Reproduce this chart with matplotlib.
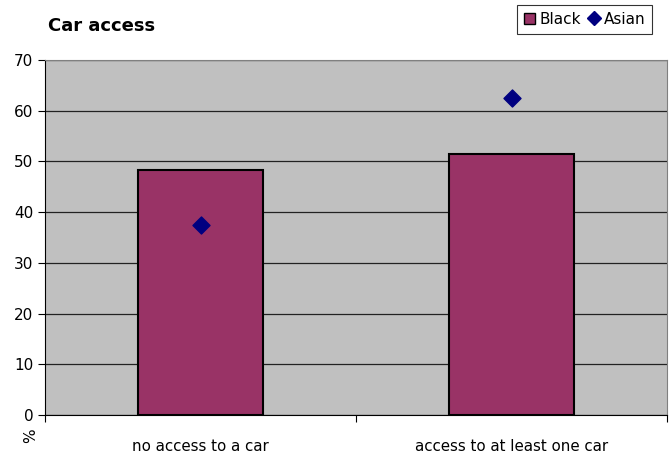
import matplotlib.pyplot as plt
import numpy as np
from matplotlib.lines import Line2D
from matplotlib.patches import Patch

categories = ['no access to a car', 'access to at least one car']
black = [48.3, 51.5]
asian = [37.5, 62.5]
yticks = [0, 10, 20, 30, 40, 50, 60, 70]

plt.rcParams['font.family'] = 'DejaVu Sans'
fig = plt.figure(figsize=(6.69, 4.55), dpi=100)
ax = fig.add_axes([45/669, 40/455, 622/669, 355/455])
ax.set_facecolor('#C0C0C0')

x = np.arange(len(categories))
ax.bar(x, black, width=0.4, color='#993366', edgecolor='black', linewidth=1.5, zorder=3)
ax.scatter(x, asian, marker='D', s=75, color='#000080', zorder=4)

ax.set_xlim(-0.5, 1.5)
ax.set_ylim(0, 70)
ax.set_yticks(yticks)
ax.tick_params(axis='y', labelsize=11, length=5, direction='out')
ax.set_xticks([-0.5, 0.5, 1.5])
ax.set_xticklabels(['', '', ''])
ax.set_xticks(x, minor=True)
ax.set_xticklabels(categories, minor=True, fontsize=10.8)
ax.tick_params(axis='x', which='major', length=5)
ax.tick_params(axis='x', which='minor', length=0, pad=17)
ax.yaxis.grid(True, color='#222222', linewidth=0.9, zorder=1)
ax.set_axisbelow(True)
for s in ['top', 'right']:
    ax.spines[s].set_color('#808080')
ax.spines['left'].set_color('black')
ax.spines['bottom'].set_color('black')

fig.text(48/669, 1 - 26/455, 'Car access', fontsize=13, fontweight='bold', va='center', ha='left')
fig.text(31/669, 1 - 436/455, '%', fontsize=11, rotation=90, va='center', ha='center')

handles = [Patch(facecolor='#993366', edgecolor='black', label='Black'),
           Line2D([], [], marker='D', color='#000080', linestyle='none', markersize=7, label='Asian')]
leg = fig.legend(handles=handles, loc='upper right', bbox_to_anchor=(652/669, 1 - 5/455), ncol=2,
                 frameon=True, fancybox=False, edgecolor='black', fontsize=11,
                 handlelength=0.75, handleheight=0.75, handletextpad=0.25, columnspacing=0.5,
                 borderpad=0.45, borderaxespad=0)
leg.get_frame().set_linewidth(0.8)

fig.savefig('out.png', dpi=100)
